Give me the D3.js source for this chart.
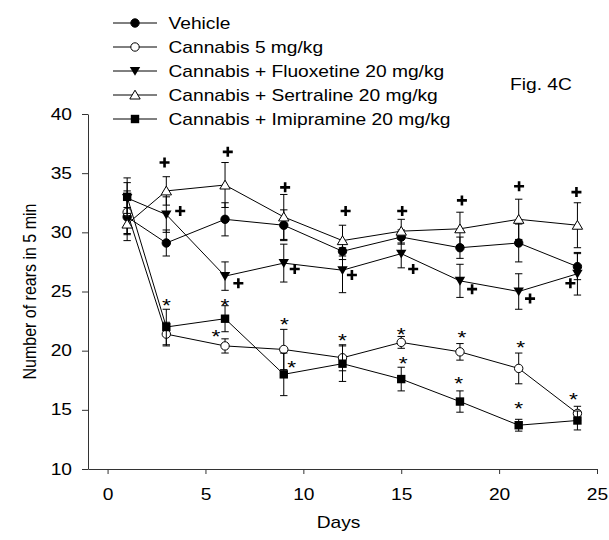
<!DOCTYPE html>
<html>
<head>
<meta charset="utf-8">
<script src="https://cdn.jsdelivr.net/npm/d3@7/dist/d3.min.js"></script>
<style>
  body { margin: 0; background: #fff; }
  text { font-family: Arial, "Liberation Sans", sans-serif; fill: #000; }
</style>
</head>
<body>
<div id="chart_root"></div>
<script>
const widthValue = 609;
const heightValue = 540;
const pad = { left: 88, right: 12, top: 114, bottom: 71 };

// chart values
const days = [1, 3, 6, 9, 12, 15, 18, 21, 24];
const seriesNames = [
  "Vehicle",
  "Cannabis 5 mg/kg",
  "Cannabis + Fluoxetine 20 mg/kg",
  "Cannabis + Sertraline 20 mg/kg",
  "Cannabis + Imipramine 20 mg/kg",
];
const vehicleMean = [31.3, 29.1, 31.1, 30.6, 28.4, 29.6, 28.7, 29.1, 27.1];
const vehicleSem = [1.5, 1.1, 1.4, 1.3, 0.7, 0.6, 0.9, 1.6, 1.1];
const cannabisMean = [31.7, 21.4, 20.4, 20.1, 19.4, 20.7, 19.9, 18.5, 14.7];
const cannabisSem = [1.8, 1.0, 0.6, 1.7, 1.1, 0.5, 0.7, 1.3, 0.6];
const fluoxetineMean = [32.9, 31.5, 26.3, 27.4, 26.8, 28.2, 25.9, 25.0, 26.5];
const fluoxetineSem = [1.3, 1.5, 1.2, 1.6, 1.9, 1.2, 1.4, 1.5, 1.8];
const sertralineMean = [30.7, 33.5, 34.0, 31.3, 29.3, 30.1, 30.3, 31.1, 30.6];
const sertralineSem = [1.4, 1.2, 1.9, 1.9, 1.3, 1.0, 1.4, 1.7, 1.9];
const imipramineMean = [33.0, 22.0, 22.7, 18.0, 18.9, 17.6, 15.7, 13.7, 14.1];
const imipramineSem = [1.6, 1.5, 1.1, 1.8, 1.5, 1.0, 0.9, 0.5, 0.8];

// significance marks: [day, level]
const starMarks = [
  [3.0, 24.2], [6.0, 24.2], [5.54, 21.6], [9.03, 22.6], [9.41, 19.0],
  [12.0, 21.3], [15.0, 21.8], [15.1, 19.3], [18.1, 21.5], [17.94, 17.6],
  [21.1, 20.7], [21.0, 15.5], [23.8, 16.3],
];
const plusMarks = [
  [2.91, 35.9], [3.71, 31.8], [6.14, 36.8], [6.68, 25.7], [9.07, 33.8],
  [9.56, 26.9], [12.16, 31.8], [12.48, 26.4], [15.05, 31.8], [15.61, 26.9],
  [18.1, 32.7], [18.62, 25.2], [21.02, 33.9], [21.58, 24.4], [23.95, 33.4],
  [23.64, 25.7],
];

const xTicks = [0, 5, 10, 15, 20, 25];
const yTicks = [10, 15, 20, 25, 30, 35, 40];
const xLabel = "Days";
const yLabel = "Number of rears in 5 min";
const figLabel = "Fig. 4C";

const means = [vehicleMean, cannabisMean, fluoxetineMean, sertralineMean, imipramineMean];
const sems = [vehicleSem, cannabisSem, fluoxetineSem, sertralineSem, imipramineSem];
const markers = ["circleFilled", "circleOpen", "triDown", "triUp", "square"];

const sx = 1.2; // the figure text is a bit wide

const svg = d3
  .select("#chart_root")
  .append("svg")
  .attr("width", widthValue)
  .attr("height", heightValue);

const xScale = d3.scaleLinear().domain([-1, 25]).range([pad.left, widthValue - pad.right]);
const yScale = d3.scaleLinear().domain([10, 40]).range([heightValue - pad.bottom, pad.top]);

// draw one marker into a group at (0,0)
function drawMarker(g, kind) {
  if (kind === "circleFilled" || kind === "circleOpen") {
    g.append("circle")
      .attr("r", 4.2)
      .attr("fill", kind === "circleFilled" ? "#000" : "#fff")
      .attr("stroke", "#000")
      .attr("stroke-width", 1);
  } else if (kind === "square") {
    g.append("rect")
      .attr("x", -4.2).attr("y", -4.2)
      .attr("width", 8.4).attr("height", 8.4)
      .attr("fill", "#000");
  } else if (kind === "triDown") {
    g.append("path")
      .attr("d", "M-5.2,-4L5.2,-4L0,4.8Z")
      .attr("fill", "#000");
  } else if (kind === "triUp") {
    g.append("path")
      .attr("d", "M-5.2,4L5.2,4L0,-4.8Z")
      .attr("fill", "#fff")
      .attr("stroke", "#000")
      .attr("stroke-width", 1);
  }
}

// X axis
const xAxis = svg
  .append("g")
  .attr("transform", "translate(0," + (heightValue - pad.bottom) + ")")
  .call(d3.axisBottom(xScale).tickValues(xTicks).tickSize(5).tickSizeOuter(0));
xAxis.select(".domain").attr("stroke", "#333");
xAxis.selectAll(".tick line").attr("stroke", "#333");
xAxis.selectAll(".tick text")
  .attr("font-size", 16)
  .attr("font-family", null)
  .attr("y", 20)
  .attr("dy", "0.71em")
  .attr("transform", `scale(${sx},1)`);

// Y axis
const yAxis = svg
  .append("g")
  .attr("transform", "translate(" + pad.left + ",0)")
  .call(d3.axisLeft(yScale).tickValues(yTicks).tickSize(6).tickSizeOuter(0));
yAxis.select(".domain").attr("stroke", "#333");
yAxis.selectAll(".tick line").attr("stroke", "#333");
yAxis.selectAll(".tick text")
  .attr("font-size", 16)
  .attr("font-family", null)
  .attr("x", -16 / sx)
  .attr("transform", `scale(${sx},1)`);

// axis titles
svg.append("text")
  .attr("transform", `translate(${(pad.left + widthValue - pad.right) / 2 - 4},${heightValue - 12}) scale(${sx},1)`)
  .attr("text-anchor", "middle")
  .attr("font-size", 16)
  .text(xLabel);

svg.append("text")
  .attr("transform", `translate(36,${(pad.top + heightValue - pad.bottom) / 2}) rotate(-90) scale(1,${sx})`)
  .attr("text-anchor", "middle")
  .attr("font-size", 16)
  .text(yLabel);

// series
const line = d3.line().x((d) => xScale(d.day)).y((d) => yScale(d.mean));

means.forEach((m, i) => {
  const data = days.map((day, j) => ({ day: day, mean: m[j], sem: sems[i][j] }));
  const g = svg.append("g").attr("class", "series");

  g.append("path")
    .datum(data)
    .attr("fill", "none")
    .attr("stroke", "#000")
    .attr("stroke-width", 1)
    .attr("d", line);

  // error bars
  const eb = g.selectAll(".err").data(data).enter().append("g").attr("class", "err");
  eb.append("line")
    .attr("x1", (d) => xScale(d.day)).attr("x2", (d) => xScale(d.day))
    .attr("y1", (d) => yScale(d.mean - d.sem)).attr("y2", (d) => yScale(d.mean + d.sem))
    .attr("stroke", "#000");
  [1, -1].forEach((s) => {
    eb.append("line")
      .attr("x1", (d) => xScale(d.day) - 3.7).attr("x2", (d) => xScale(d.day) + 3.7)
      .attr("y1", (d) => yScale(d.mean + s * d.sem)).attr("y2", (d) => yScale(d.mean + s * d.sem))
      .attr("stroke", "#000");
  });

  g.selectAll(".pt").data(data).enter().append("g")
    .attr("class", "pt")
    .attr("transform", (d) => `translate(${xScale(d.day)},${yScale(d.mean)})`)
    .each(function () { drawMarker(d3.select(this), markers[i]); });
});

// significance marks
svg.selectAll(".star").data(starMarks).enter().append("text")
  .attr("class", "star")
  .attr("transform", (d) => `translate(${xScale(d[0])},${yScale(d[1])}) scale(${sx},1)`)
  .attr("text-anchor", "middle")
  .attr("dy", "0.6em")
  .attr("font-size", 19)
  .text("*");

svg.selectAll(".plus").data(plusMarks).enter().append("path")
  .attr("class", "plus")
  .attr("transform", (d) => `translate(${xScale(d[0])},${yScale(d[1])})`)
  .attr("d", "M-5,0H5M0,-5V5")
  .attr("stroke", "#000")
  .attr("stroke-width", 2.6);

// legend
const legend = svg.append("g").attr("transform", "translate(113,23)");
seriesNames.forEach((name, i) => {
  const row = legend.append("g").attr("transform", `translate(0,${i * 24})`);
  row.append("line").attr("x1", 0).attr("x2", 44).attr("stroke", "#000");
  drawMarker(row.append("g").attr("transform", "translate(22,0)"), markers[i]);
  row.append("text")
    .attr("transform", `translate(55.5,0) scale(${sx},1)`)
    .attr("dy", "0.35em")
    .attr("font-size", 16)
    .text(name);
});

svg.append("text")
  .attr("transform", `translate(510,84) scale(${sx},1)`)
  .attr("dy", "0.35em")
  .attr("font-size", 16)
  .text(figLabel);
</script>
</body>
</html>
